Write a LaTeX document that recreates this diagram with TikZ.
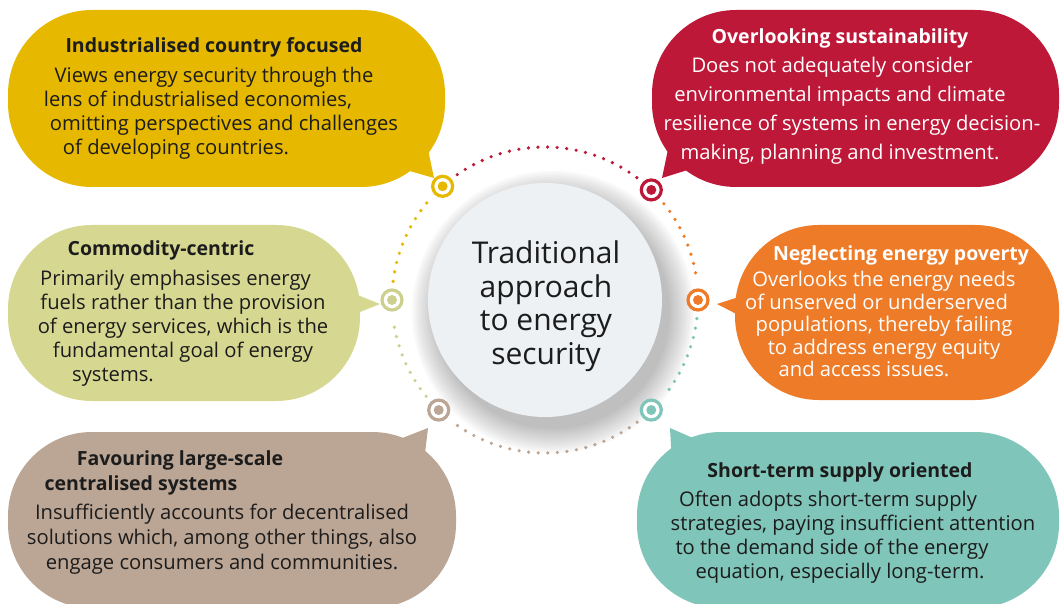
\documentclass[tikz,border=0pt]{standalone}
\usepackage{fontspec}
\setmainfont{Open Sans}
\usetikzlibrary{positioning,calc}
\definecolor{ink}      {HTML}{1C1C1C}
\definecolor{gold}     {HTML}{E6B800}
\definecolor{crimson}  {HTML}{BD1838}
\definecolor{olive}    {HTML}{D6D891}
\definecolor{tangerine}{HTML}{EE7B28}
\definecolor{taupe}    {HTML}{BBA594}
\definecolor{seafoam}  {HTML}{80C5B9}
\definecolor{hubfill}  {HTML}{EEF1F3}
\tikzset{
  every node/.style={font=\fontsize{20.2}{24}\selectfont},
  % --- nodes
  bubble/.style = {rounded corners=84pt, inner sep=0pt},
  txt/.style    = {align=center, text=ink, inner sep=0pt},
  txtw/.style   = {txt, text=white},
  ring/.style   = {circle, line width=3.2pt, fill=white, minimum size=20pt, inner sep=0pt},
  % --- edges
  dots/.style   = {line width=3.6pt, line cap=round, dash pattern=on 0pt off 9.6pt},
}
\newcommand{\ttl}[1]{{\fontsize{19.5}{24}\selectfont\bfseries #1}}
\newcommand{\toleft}[2]{\mbox{#2\hspace{#1}}}
\newcommand{\toright}[2]{\mbox{\hspace{#1}#2}}

\begin{document}
\begin{tikzpicture}[x=1pt,y=-1pt]
  \useasboundingbox (0,0) rectangle (1061,604);
  \coordinate (hubc) at (545,300);

  % speech bubbles
  \node[bubble, fill=gold,      minimum width=437pt, minimum height=177pt] (indus)     at (226.5,98.5) {};
  \node[bubble, fill=crimson,   minimum width=407pt, minimum height=177pt] (sustain)   at (855.5,98.5) {};
  \node[bubble, fill=olive,     minimum width=352pt, minimum height=176pt] (commod)    at (184,313)    {};
  \node[bubble, fill=tangerine, minimum width=324pt, minimum height=175pt] (poverty)   at (897,312.5)  {};
  \node[bubble, fill=taupe,     minimum width=448pt, minimum height=176pt] (central)   at (232,520)    {};
  \node[bubble, fill=seafoam,   minimum width=422pt, minimum height=176pt] (shortterm) at (848,520)    {};

  % bubble tails
  \coordinate (indusTip)   at (434,178);
  \coordinate (sustainTip) at (662,178);
  \coordinate (commodTip)  at (380,304);
  \coordinate (povertyTip) at (717,304);
  \coordinate (centralTip) at (428,428);
  \coordinate (shortTip)   at (670,428);
  \fill[gold]      (392,166) -- (indusTip)   -- (426,140) -- cycle;
  \fill[crimson]   (670,140) -- (sustainTip) -- (694,168) -- cycle;
  \fill[olive]     (345,290) -- (commodTip)  -- (345,318) -- cycle;
  \fill[tangerine] (748,294) -- (povertyTip) -- (748,320) -- cycle;
  \fill[taupe]     (392,442) -- (centralTip) -- (424,462) -- cycle;
  \fill[seafoam]   (702,442) -- (shortTip)   -- (672,464) -- cycle;

  % bubble texts
  \node[txt] (indusTxt) at (214,98)
    {\ttl{Industrialised country focused}\\[6pt]
     Views energy security through the\\
     \toleft{32pt}{lens of industrialised economies,}\\
     \toright{20pt}{omitting perspectives and challenges}\\
     \toleft{76pt}{of developing countries.}};
  \node[txtw, font=\fontsize{20.2}{29}\selectfont] (sustainTxt) at (840,97)
    {\ttl{Overlooking sustainability}\\
     \toleft{16pt}{Does not adequately consider}\\
     environmental impacts and climate\\
     \toright{24pt}{resilience of systems in energy decision-}\\
     making, planning and investment.};
  \node[txt] (commodTxt) at (183,314)
    {\toleft{44pt}{\ttl{Commodity-centric}}\\[6pt]
     \toleft{15pt}{Primarily emphasises energy}\\
     fuels rather than the provision\\
     of energy services, which is the\\
     fundamental goal of energy\\
     \toleft{140pt}{systems.}};
  \node[txtw, font=\fontsize{20.2}{22.5}\selectfont] (povertyTxt) at (884,311)
    {\toright{34pt}{\ttl{Neglecting energy poverty}}\\[4pt]
     Overlooks the energy needs\\
     \toleft{15pt}{of unserved or underserved}\\
     populations, thereby failing\\
     to address energy equity\\
     \toleft{40pt}{and access issues.}};
  \node[txt, font=\fontsize{20.2}{25}\selectfont] (centralTxt) at (222,513)
    {\toleft{84pt}{\ttl{Favouring large-scale}}\\
     \toleft{162pt}{\ttl{centralised systems}}\\[4pt]
     Insufficiently accounts for decentralised\\
     solutions which, among other things, also\\
     engage consumers and communities.};
  \node[txt] (shortTxt) at (840,523)
    {\ttl{Short-term supply oriented}\\[5pt]
     \toleft{24pt}{Often adopts short-term supply}\\
     \toright{26pt}{strategies, paying insufficient attention}\\
     \toleft{16pt}{to the demand side of the energy}\\
     equation, especially long-term.};

  % soft shadow of the hub
  \foreach \i in {0,...,11}
    \fill[black, opacity=0.024] ($(hubc)+(8,12)$) circle[radius={117pt+\i*2.2pt}];

  % hub
  \node[circle, fill=hubfill, minimum size=234pt, inner sep=0pt] (hub) at (hubc) {};
  \node[txt, font=\fontsize{30}{33.5}\selectfont] (hubTxt) at ($(hubc)+(1,6)$)
    {Traditional\\approach\\to energy\\security};

  % dotted ring
  \draw[dots, crimson]      ($(hubc)+(-125:153)$) arc[start angle=-125, end angle=-53, radius=153];
  \draw[dots, tangerine]    ($(hubc)+(-39:153)$)  arc[start angle=-39,  end angle=-7,  radius=153];
  \draw[dots, seafoam]      ($(hubc)+(7:153)$)    arc[start angle=7,    end angle=39,  radius=153];
  \draw[dots, taupe]        ($(hubc)+(53:153)$)   arc[start angle=53,   end angle=127, radius=153];
  \draw[dots, olive!90!gray]($(hubc)+(141:153)$)  arc[start angle=141,  end angle=173, radius=153];
  \draw[dots, gold]         ($(hubc)+(187:153)$)  arc[start angle=187,  end angle=221, radius=153];

  % ring markers
  \node[ring, draw=gold]      (mIndus)   at ($(hubc)+(-132:153)$) {};
  \node[ring, draw=crimson]   (mSustain) at ($(hubc)+(-46:153)$)  {};
  \node[ring, draw=tangerine] (mPoverty) at ($(hubc)+(0:153)$)    {};
  \node[ring, draw=seafoam]   (mShort)   at ($(hubc)+(46:153)$)   {};
  \node[ring, draw=taupe]     (mCentral) at ($(hubc)+(134:153)$)  {};
  \node[ring, draw=olive!90!gray] (mCommod) at ($(hubc)+(180:153)$) {};
  \foreach \m/\c in {mIndus/gold, mSustain/crimson, mPoverty/tangerine,
                     mShort/seafoam, mCentral/taupe, mCommod/olive!90!gray}
    \fill[\c] (\m) circle[radius=5pt];
\end{tikzpicture}
\end{document}
